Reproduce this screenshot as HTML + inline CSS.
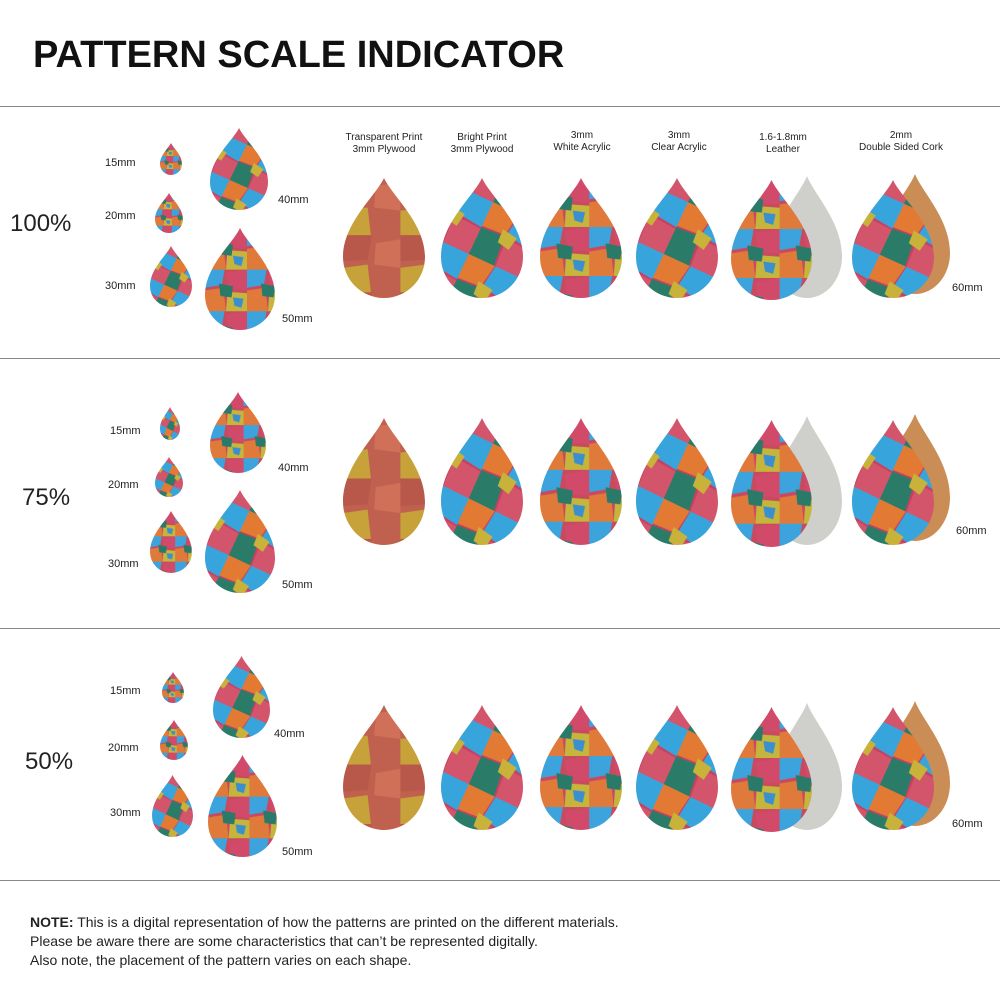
<!DOCTYPE html>
<html><head><meta charset="utf-8"><style>
html,body{margin:0;padding:0;background:#fff;width:1000px;height:1000px;overflow:hidden}
svg{display:block}
text{font-family:"Liberation Sans",sans-serif;fill:#222}
</style></head><body>
<svg id="s" width="1000" height="1000" xmlns="http://www.w3.org/2000/svg">
<defs>
<pattern id="p0" width="60" height="60" patternUnits="userSpaceOnUse">
<rect width="60" height="60" fill="#c84a5e"/>
<polygon points="0,0 28,0 24,22 0,26" fill="#3da3dc"/>
<polygon points="30,5 60,0 60,30 34,28" fill="#d24a6a"/>
<polygon points="0,30 26,26 30,60 0,60" fill="#e07a3a"/>
<polygon points="32,32 60,34 60,60 30,60" fill="#c5b53c"/>
<polygon points="20,20 40,24 38,40 22,38" fill="#2a7a6a"/>
<polygon points="40,40 55,42 52,55 42,52" fill="#3a8fd0"/>
</pattern>
<pattern id="p1" width="70" height="70" patternUnits="userSpaceOnUse" patternTransform="rotate(25)">
<rect width="70" height="70" fill="#c74060"/>
<polygon points="0,0 35,0 30,30 0,32" fill="#e27a34"/>
<polygon points="36,0 70,0 70,34 32,30" fill="#38a4dc"/>
<polygon points="0,34 30,32 34,70 0,70" fill="#2a7c68"/>
<polygon points="34,34 70,36 70,70 36,70" fill="#d3556c"/>
<polygon points="25,25 45,28 42,45 26,42" fill="#c9b23a"/>
</pattern>
<pattern id="pw" width="70" height="70" patternUnits="userSpaceOnUse">
<rect width="70" height="70" fill="#c0604e"/>
<polygon points="0,0 35,0 30,30 0,32" fill="#b8584a"/>
<polygon points="0,40 30,36 34,70 0,70" fill="#c7a23a"/>
<polygon points="40,10 70,5 70,40 38,36" fill="#d07058"/>
</pattern>
</defs>
<text x="33" y="67" font-size="38" font-weight="bold" style="fill:#111">PATTERN SCALE INDICATOR</text>
<g stroke="#888" stroke-width="1">
<line x1="0" y1="106.5" x2="1000" y2="106.5"/>
<line x1="0" y1="358.5" x2="1000" y2="358.5"/>
<line x1="0" y1="628.5" x2="1000" y2="628.5"/>
<line x1="0" y1="880.5" x2="1000" y2="880.5"/>
</g>
<g font-size="24">
<text x="10" y="231">100%</text>
<text x="22" y="505">75%</text>
<text x="25" y="769">50%</text>
</g>
<g font-size="10" text-anchor="middle">
<text x="384" y="140">Transparent Print</text><text x="384" y="152">3mm Plywood</text>
<text x="482" y="140">Bright Print</text><text x="482" y="152">3mm Plywood</text>
<text x="582" y="138">3mm</text><text x="582" y="150">White Acrylic</text>
<text x="679" y="138">3mm</text><text x="679" y="150">Clear Acrylic</text>
<text x="783" y="140">1.6-1.8mm</text><text x="783" y="152">Leather</text>
<text x="901" y="138">2mm</text><text x="901" y="150">Double Sided Cork</text>
</g>
<g font-size="11" id="lbl">
<text x="105" y="166">15mm</text><text x="278" y="203">40mm</text><text x="105" y="219">20mm</text><text x="105" y="289">30mm</text><text x="282" y="322">50mm</text><text x="952" y="291">60mm</text>
<text x="110" y="434">15mm</text><text x="278" y="471">40mm</text><text x="108" y="488">20mm</text><text x="108" y="567">30mm</text><text x="282" y="588">50mm</text><text x="956" y="534">60mm</text>
<text x="110" y="694">15mm</text><text x="274" y="737">40mm</text><text x="108" y="751">20mm</text><text x="110" y="816">30mm</text><text x="282" y="855">50mm</text><text x="952" y="827">60mm</text>
</g>
<g id="d"></g>
<g font-size="14">
<text x="30" y="927"><tspan font-weight="bold">NOTE:</tspan> This is a digital representation of how the patterns are printed on the different materials.</text>
<text x="30" y="946">Please be aware there are some characteristics that can’t be represented digitally.</text>
<text x="30" y="965">Also note, the placement of the pattern varies on each shape.</text>
</g>
</svg>
<script>
var g=document.getElementById('d'),ns='http://www.w3.org/2000/svg';
function drop(x1,y1,x2,y2,fill){
 var w=x2-x1,h=y2-y1,p=document.createElementNS(ns,'path');
 p.setAttribute('d','M50 0 C40 22 0 55 0 97 A50 50 0 0 0 100 97 C100 55 60 22 50 0Z');
 p.setAttribute('transform','translate('+x1+','+y1+') scale('+(w/100)+','+(h/147)+')');
 p.setAttribute('fill',fill);g.appendChild(p);}
var rows=[
 {s:[[160,143,182,175],[210,128,268,210],[155,193,183,233],[150,246,192,307],[205,228,275,330]],t:178,b:298},
 {s:[[160,407,180,440],[210,392,266,473],[155,457,183,497],[150,511,192,573],[205,490,275,593]],t:418,b:545},
 {s:[[162,672,184,703],[213,656,270,738],[160,720,188,760],[152,775,193,837],[208,755,277,857]],t:705,b:830}];
rows.forEach(function(r,i){
 r.s.forEach(function(a,j){drop(a[0],a[1],a[2],a[3],'url(#p'+((i+j)%2)+')');});
 var t=r.t,b=r.b;
 drop(343,t,425,b,'url(#pw)');
 drop(441,t,523,b,'url(#p1)');
 drop(540,t,622,b,'url(#p0)');
 drop(636,t,718,b,'url(#p1)');
 drop(772,t-2,842,b,'#cfcfcb');
 drop(731,t+2,812,b+2,'url(#p0)');
 drop(880,t-4,950,b-4,'#c98d55');
 drop(852,t+2,934,b,'url(#p1)');
});
</script>
</body></html>
